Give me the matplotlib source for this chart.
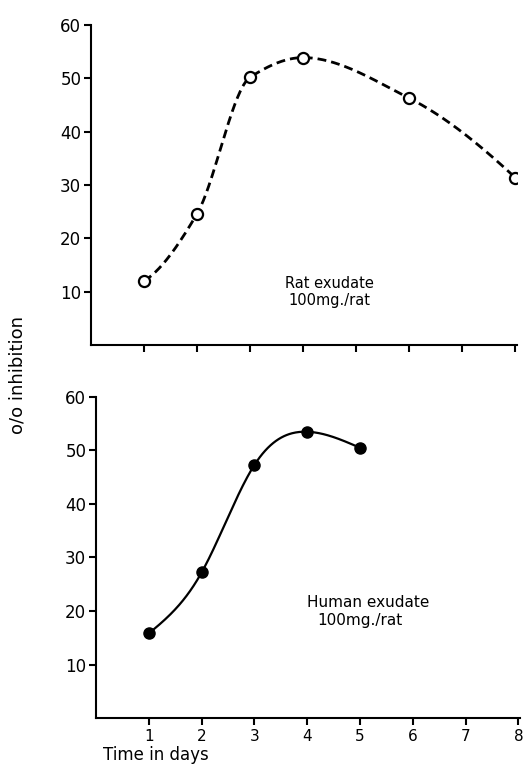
import numpy as np
import matplotlib
matplotlib.use("Agg")
import matplotlib.pyplot as plt

# data
rat_days = [1, 2, 3, 4, 6, 8]
rat_inhib = [12.0, 24.6, 50.2, 53.9, 46.3, 31.4]
human_days = [1, 2, 3, 4, 5]
human_inhib = [15.8, 27.2, 47.3, 53.5, 50.5]
day_ticks = [1, 2, 3, 4, 5, 6, 7, 8]
inhib_ticks = [10, 20, 30, 40, 50, 60]


def hermite(xs, ys, m, n=60):
    out_x, out_y = [], []
    for i in range(len(xs) - 1):
        h = xs[i + 1] - xs[i]
        t = np.linspace(0, 1, n)
        h00 = 2 * t**3 - 3 * t**2 + 1
        h10 = t**3 - 2 * t**2 + t
        h01 = -2 * t**3 + 3 * t**2
        h11 = t**3 - t**2
        out_x.append(xs[i] + t * h)
        out_y.append(h00 * ys[i] + h10 * h * m[i] + h01 * ys[i + 1] + h11 * h * m[i + 1])
    return np.concatenate(out_x), np.concatenate(out_y)


def pchip(xs, ys):
    # shape preserving curve (Fritsch-Carlson slopes)
    xs = np.asarray(xs, float)
    ys = np.asarray(ys, float)
    h = np.diff(xs)
    d = np.diff(ys) / h
    m = np.zeros_like(ys)
    for i in range(1, len(xs) - 1):
        if d[i - 1] * d[i] > 0:
            w1 = 2 * h[i] + h[i - 1]
            w2 = h[i] + 2 * h[i - 1]
            m[i] = (w1 + w2) / (w1 / d[i - 1] + w2 / d[i])
    m[0] = ((2 * h[0] + h[1]) * d[0] - h[0] * d[1]) / (h[0] + h[1])
    m[-1] = ((2 * h[-1] + h[-2]) * d[-1] - h[-1] * d[-2]) / (h[-1] + h[-2])
    return hermite(xs, ys, m)


def natural(xs, ys, n=60):
    # natural cubic spline through the points
    xs = np.asarray(xs, float)
    ys = np.asarray(ys, float)
    k = len(xs)
    h = np.diff(xs)
    A = np.zeros((k, k))
    b = np.zeros(k)
    A[0, 0] = 1
    A[-1, -1] = 1
    for i in range(1, k - 1):
        A[i, i - 1] = h[i - 1]
        A[i, i] = 2 * (h[i - 1] + h[i])
        A[i, i + 1] = h[i]
        b[i] = 6 * ((ys[i + 1] - ys[i]) / h[i] - (ys[i] - ys[i - 1]) / h[i - 1])
    M = np.linalg.solve(A, b)
    out_x, out_y = [], []
    for i in range(k - 1):
        x = np.linspace(xs[i], xs[i + 1], n)
        a = xs[i + 1] - x
        c = x - xs[i]
        y = (M[i] * a**3 + M[i + 1] * c**3) / (6 * h[i]) \
            + (ys[i] / h[i] - M[i] * h[i] / 6) * a \
            + (ys[i + 1] / h[i] - M[i + 1] * h[i] / 6) * c
        out_x.append(x)
        out_y.append(y)
    return np.concatenate(out_x), np.concatenate(out_y)


plt.rcParams['font.family'] = ['DejaVu Sans']
fig = plt.figure(figsize=(5.25, 7.64), dpi=100)

ax1 = fig.add_axes([0.1733, 0.5484, 0.811, 0.4188])
ax2 = fig.add_axes([0.1829, 0.0602, 0.8076, 0.4202])

for ax in (ax1, ax2):
    ax.set_xlim(0, 8.03)
    ax.set_ylim(0, 60)
    ax.spines['top'].set_visible(False)
    ax.spines['right'].set_visible(False)
    ax.spines['left'].set_linewidth(1.5)
    ax.spines['bottom'].set_linewidth(1.5)
    ax.set_yticks(inhib_ticks)
    ax.set_xticks(day_ticks)
    ax.tick_params(axis='y', direction='out', length=5, width=1.5, labelsize=12, pad=2)
    ax.tick_params(axis='x', direction='out', length=5, width=1.5, labelsize=11, pad=3)

# rat exudate, dashed with open circles
cx, cy = pchip(rat_days, rat_inhib)
ax1.plot(cx, cy, color='black', linestyle=(0, (3.2, 1.8)), linewidth=2.0)
ax1.plot(rat_days, rat_inhib, linestyle='none', marker='o', markersize=8,
         markerfacecolor='white', markeredgecolor='black', markeredgewidth=1.6)
ax1.set_xticklabels([])
ax1.text(4.5, 11.6, "Rat exudate", fontsize=10.5, ha='center', va='center')
ax1.text(4.5, 8.4, "100mg./rat", fontsize=10.5, ha='center', va='center')

# human exudate, solid with filled circles
cx, cy = natural(human_days, human_inhib)
ax2.plot(cx, cy, color='black', linestyle='-', linewidth=1.6)
ax2.plot(human_days, human_inhib, linestyle='none', marker='o', markersize=8,
         color='black')
ax2.text(5.15, 21.5, "Human exudate", fontsize=11, ha='center', va='center')
ax2.text(5.0, 18.3, "100mg./rat", fontsize=11, ha='center', va='center')
ax2.set_xlabel("Time in days", fontsize=12)
ax2.xaxis.set_label_coords(0.14, -0.088)

fig.text(0.033, 0.509, "o/o inhibition", rotation=90, fontsize=13,
         ha='center', va='center')

fig.savefig("out.png", dpi=100)
